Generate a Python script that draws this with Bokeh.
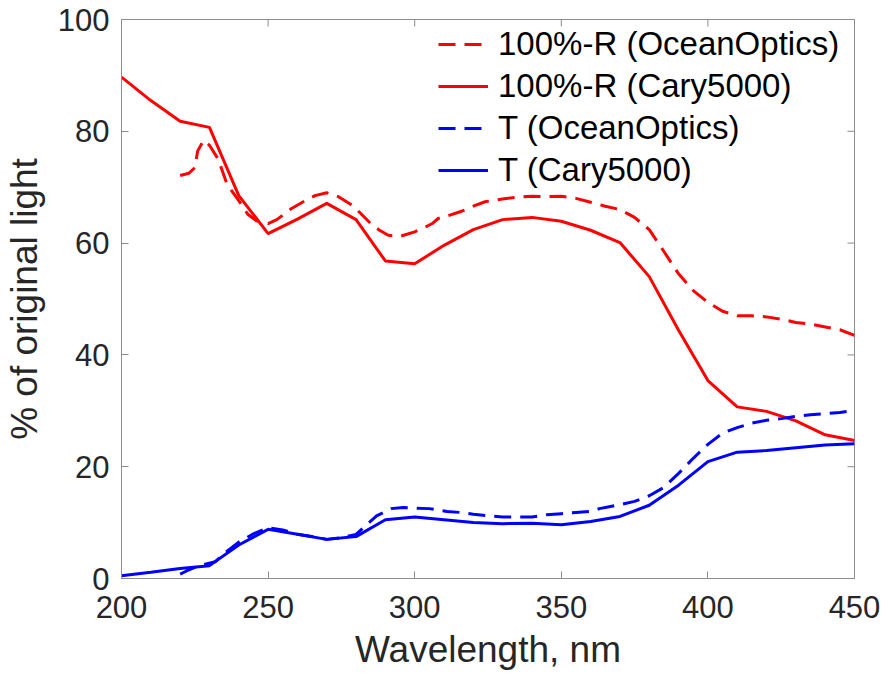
import math
from bokeh.plotting import figure
from bokeh.models import Range1d, FixedTicker, Legend, LegendItem
from bokeh.embed import file_html
from bokeh.resources import INLINE

# Cary5000 (10 nm steps)
wl_cary = [200, 210, 220, 230, 240, 250, 260, 270, 280, 290, 300, 310, 320,
           330, 340, 350, 360, 370, 380, 390, 400, 410, 420, 430, 440, 450]
r_cary = [89.7, 85.5, 81.8, 80.7, 68.5, 61.7, 64.3, 67.1, 64.2, 56.8, 56.3, 59.6, 62.4,
          64.2, 64.6, 63.9, 62.3, 60.1, 54.0, 44.4, 35.4, 30.7, 29.9, 28.2, 25.7, 24.7]
t_cary = [0.5, 1.1, 1.8, 2.3, 6.0, 8.8, 7.9, 7.0, 7.5, 10.5, 11.0, 10.5, 10.0,
          9.8, 9.9, 9.6, 10.2, 11.1, 13.1, 16.7, 20.9, 22.6, 22.9, 23.4, 23.9, 24.1]

# OceanOptics
wl_oo_r = [220, 223, 225, 226, 228, 230, 233, 236, 240, 243, 246, 250, 253, 258, 262,
           266, 270, 274, 278, 281, 285, 288, 291, 295, 300, 303, 306, 308, 312, 316,
           320, 324, 330, 335, 340, 345, 350, 355, 360, 365, 370, 375, 380, 385, 390,
           395, 400, 405, 410, 415, 420, 425, 430, 435, 440, 445, 450]
r_oo = [72.1, 72.5, 73.5, 76.5, 78.4, 77.5, 75.0, 70.5, 67.6, 65.2, 64.0, 63.5, 64.2, 66.2, 67.4,
        68.5, 69.0, 68.3, 67.0, 65.6, 63.5, 62.3, 61.4, 61.2, 62.0, 62.7, 63.5, 64.4, 65.0, 65.7,
        66.6, 67.4, 67.9, 68.2, 68.4, 68.3, 68.4, 68.0, 67.3, 66.6, 66.0, 64.6, 62.4, 58.5, 54.5,
        51.5, 49.4, 47.8, 47.0, 47.0, 46.8, 46.4, 45.8, 45.5, 45.0, 44.5, 43.5]

wl_oo_t = [220, 222, 225, 228, 232, 235, 240, 245, 250, 255, 260, 265, 270, 275, 280,
           284, 287, 292, 296, 300, 305, 311, 316, 320, 325, 330, 335, 340, 345, 350,
           355, 360, 363, 370, 375, 380, 385, 390, 395, 400, 405, 410, 415, 420, 425,
           430, 435, 440, 445, 450]
t_oo = [0.8, 1.3, 2.0, 2.5, 3.0, 4.5, 6.5, 8.0, 9.1, 8.7, 7.9, 7.5, 7.0, 7.3, 7.9,
        9.8, 11.2, 12.5, 12.7, 12.6, 12.5, 12.0, 11.8, 11.5, 11.2, 11.0, 11.0, 11.0, 11.4, 11.6,
        11.8, 12.0, 12.5, 13.2, 13.8, 14.8, 16.3, 18.8, 21.5, 24.0, 26.0, 27.0, 27.8, 28.3, 28.6,
        29.0, 29.3, 29.5, 29.7, 30.1]

x_ticks = [200, 250, 300, 350, 400, 450]
y_ticks = [0, 20, 40, 60, 80, 100]
x_min, x_max = 200, 450
y_min, y_max = 0, 100

FONT = "Liberation Sans"
AX_COL = "#8c8c8c"
TXT_COL = "#262626"

p = figure(frame_width=733, frame_height=559, output_backend="svg", toolbar_location=None,
           x_range=Range1d(x_min, x_max), y_range=Range1d(y_min, y_max),
           min_border_left=120, min_border_right=32, min_border_top=19, min_border_bottom=96)
p.background_fill_color = "white"
p.border_fill_color = "white"
p.grid.visible = False
p.outline_line_color = AX_COL
p.outline_line_width = 1

p.xaxis.axis_label = "Wavelength, nm"
p.yaxis.axis_label = "% of original light"

for ax in (p.xaxis[0], p.yaxis[0]):
    ax.axis_line_color = AX_COL
    ax.major_tick_line_color = AX_COL
    ax.major_tick_in = 7
    ax.major_tick_out = 0
    ax.minor_tick_line_color = None
    ax.major_label_text_font = FONT
    ax.major_label_text_font_size = "31px"
    ax.major_label_text_color = TXT_COL
    ax.axis_label_text_font = FONT
    ax.axis_label_text_font_size = "37px"
    ax.axis_label_text_font_style = "normal"
    ax.axis_label_text_color = TXT_COL

p.xaxis.ticker = FixedTicker(ticks=x_ticks)
p.yaxis.ticker = FixedTicker(ticks=y_ticks)
p.xaxis.major_label_standoff = 17
p.xaxis.axis_label_standoff = 8
p.yaxis.major_label_standoff = 12
p.yaxis.axis_label_standoff = 10

# Box ticks on top and right (MATLAB style), pointing inward
p.ray(x=x_ticks, y=[y_max] * len(x_ticks), length=7, length_units="screen",
      angle=-math.pi / 2, line_color=AX_COL, line_width=1)
p.ray(x=[x_max] * len(y_ticks), y=y_ticks, length=7, length_units="screen",
      angle=math.pi, line_color=AX_COL, line_width=1)

dash = "17 9"
l1 = p.line(wl_oo_r, r_oo, line_color="#ff0000", line_width=3, line_dash=dash)
l2 = p.line(wl_cary, r_cary, line_color="#ff0000", line_width=3)
l3 = p.line(wl_oo_t, t_oo, line_color="#0000ff", line_width=3, line_dash=dash)
l4 = p.line(wl_cary, t_cary, line_color="#0000ff", line_width=3)

legend = Legend(items=[
    LegendItem(label="100%-R (OceanOptics)", renderers=[l1]),
    LegendItem(label="100%-R (Cary5000)", renderers=[l2]),
    LegendItem(label="T (OceanOptics)", renderers=[l3]),
    LegendItem(label="T (Cary5000)", renderers=[l4]),
], location="top_right")
legend.background_fill_alpha = 0
legend.border_line_color = None
legend.label_text_font = FONT
legend.label_text_font_size = "33px"
legend.label_text_color = "black"
legend.glyph_width = 50
legend.glyph_height = 36
legend.label_height = 36
legend.label_width = 350
legend.label_standoff = 10
legend.spacing = 4
legend.padding = 4
legend.margin = 6
p.add_layout(legend)

open("out.html", "w").write(file_html(p, INLINE))
